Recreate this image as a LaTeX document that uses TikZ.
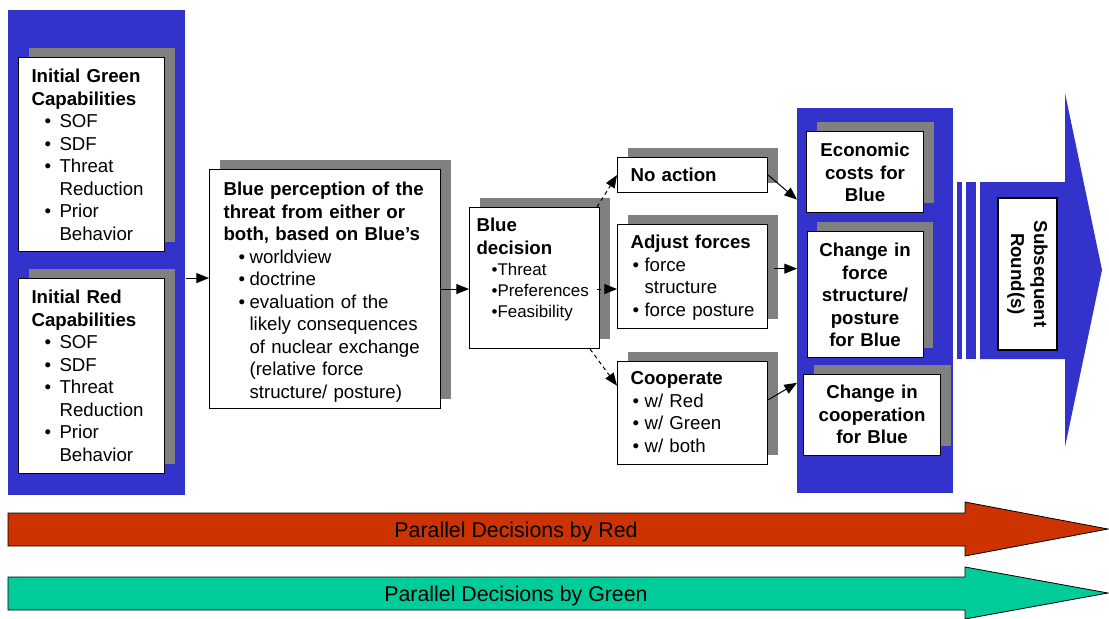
\documentclass[tikz,border=0pt]{standalone}
\usepackage{fontspec}
\setmainfont{Liberation Sans}
\usetikzlibrary{positioning,arrows.meta,calc,shadows}
\definecolor{panelblue}{HTML}{3333CC}
\definecolor{shgray}{HTML}{808080}
\definecolor{redband}{HTML}{CC3300}
\definecolor{greenband}{HTML}{00CC99}
\newlength\bulin
\newlength\bulgap
\newcommand{\bul}{\hspace*{\bulin}\makebox[\bulgap][l]{\textbullet}}
\newcommand{\cnt}{\hspace*{\dimexpr\bulin+\bulgap\relax}}
\newcommand{\smallitems}{\fontsize{12.7pt}{15.75pt}\selectfont}

\begin{document}
\begin{tikzpicture}[
            x=0.75pt, y=-0.75pt,
            >={Triangle[length=9.5pt,width=7.5pt]},
            panel/.style={fill=panelblue, anchor=north west, inner sep=0pt},
            box/.style={draw, line width=0.8pt, fill=white, anchor=north west, align=left,
                        inner ysep=0pt, inner xsep=9.75pt, font=\fontsize{14pt}{16.9pt}\selectfont,
                        general shadow={fill=shgray, shadow xshift=7.5pt, shadow yshift=7.5pt}},
            cbox/.style={box, align=center, inner xsep=3pt,
                        font=\fontsize{14pt}{16.9pt}\selectfont\bfseries},
            bullets/.style 2 args={execute at begin node={\setlength\bulin{#1}\setlength\bulgap{#2}}},
            arr/.style={->, line width=0.75pt},
            dasharr/.style={arr, dash pattern=on 3pt off 2.5pt},
            band/.style={draw, line width=0.6pt},
            bandlbl/.style={font=\fontsize{16pt}{19pt}\selectfont}
        ]
            \useasboundingbox (0,0) rectangle (1109,618);

            \node[panel, minimum width=132.75pt, minimum height=363.75pt] (leftpanel) at (8,10) {};
            \node[panel, minimum width=117pt, minimum height=288.75pt] (rightpanel) at (797,108) {};

            \node[box, bullets={9.75pt}{11.25pt}, text width=90pt, text height=18.75pt, text depth=126.75pt] (green) at (18,57)
                {\textbf{Initial Green}\\\textbf{Capabilities}\\\bul SOF\\\bul SDF\\\bul Threat\\\cnt Reduction\\\bul Prior\\\cnt Behavior};
            \node[box, bullets={9.75pt}{11.25pt}, text width=90pt, text height=18.75pt, text depth=127.5pt, below=19.5pt of green] (red)
                {\textbf{Initial Red}\\\textbf{Capabilities}\\\bul SOF\\\bul SDF\\\bul Threat\\\cnt Reduction\\\bul Prior\\\cnt Behavior};

            \node[box, bullets={11.25pt}{8.25pt}, inner xsep=10.5pt, text width=152.25pt, text height=19.5pt, text depth=159.75pt] (perception) at (209,169)
                {\textbf{Blue perception of the}\\\textbf{threat from either or}\\\textbf{both, based on Blue’s}\\\bul worldview\\\bul doctrine\\\bul evaluation of the\\\cnt likely consequences\\\cnt of nuclear exchange\\\cnt (relative force\\\cnt structure/ posture)};

            \node[box, bullets={11.25pt}{4.5pt}, inner xsep=5.25pt, text width=87pt, text height=18pt, text depth=87.75pt,
                  font=\fontsize{14pt}{15.75pt}\selectfont] (decision) at (469,207)
                {\textbf{Blue}\\[1.5pt]\textbf{decision}\\\smallitems\bul Threat\\\bul Preferences\\\bul Feasibility};

            \node[box, text width=93pt, text height=18pt, text depth=8.25pt] (noaction) at (617,157) {\textbf{No action}};
            \node[box, bullets={1.5pt}{9pt}, text width=93pt, text height=18pt, text depth=60pt, below=23.25pt of noaction] (adjust)
                {\textbf{Adjust forces}\\\bul force\\\cnt structure\\\bul force posture};
            \node[box, bullets={1.5pt}{9pt}, text width=93pt, text height=17.25pt, text depth=60pt, below=24pt of adjust] (cooperate)
                {\textbf{Cooperate}\\\bul w/ Red\\\bul w/ Green\\\bul w/ both};

            \node[cbox, text width=81.75pt, text height=18.75pt, text depth=42pt] (econ) at (806,131) {Economic\\costs for\\Blue};
            \node[cbox, text width=81pt, text height=18.75pt, text depth=75.75pt, below=13.5pt of econ] (chforce)
                {Change in\\force\\structure/\\posture\\for Blue};
            \node[cbox, text width=96.75pt, text height=18pt, text depth=42.75pt] (chcoop) at (803,374)
                {Change in\\cooperation\\for Blue};

            \fill[panelblue] (957,182) rectangle (962,359);
            \fill[panelblue] (966,182) rectangle (976,359);
            \fill[panelblue] (980,182) -- (1065,182) -- (1065,93) -- (1102,270) -- (1065,447) -- (1065,359) -- (980,359) -- cycle;
            \node[draw, line width=0.8pt, fill=white, rotate=-90, minimum width=114pt, minimum height=44.25pt, align=center,
                  font=\fontsize{14pt}{17.25pt}\selectfont\bfseries] (subseq) at (1027.5,274) {Subsequent\\Round(s)};

            \draw[band, fill=redband] (8,513) -- (965,513) -- (965,502) -- (1108,529) -- (965,556) -- (965,546) -- (8,546) -- cycle;
            \node[bandlbl] (redlbl) at (516,532) {Parallel Decisions by Red};
            \draw[band, fill=greenband] (8,577) -- (965,577) -- (965,567) -- (1108,593) -- (965,619) -- (965,610) -- (8,610) -- cycle;
            \node[bandlbl] (greenlbl) at (516,596) {Parallel Decisions by Green};

            \draw[arr] (leftpanel.east |- red.north) -- (perception.west |- red.north);
            \draw[arr] (perception.east) -- (decision.west |- perception.east);
            \draw[dasharr] ($(decision.north east)+(-3,0)$) -- (noaction.west);
            \draw[dasharr] ($(decision.east |- perception.east)+(-3,0)$) -- (adjust.west |- perception.east);
            \draw[dasharr] (decision.-52) -- (cooperate.160);
            \draw[arr] (noaction.east) -- ($(econ.-155)+(-9,0)$);
            \draw[arr] ($(adjust.6)+(6,0)$) -- (rightpanel.west |- adjust.6);
            \draw[arr] (cooperate.10) -- (rightpanel.west |- chcoop.155);
        \end{tikzpicture}
\end{document}
